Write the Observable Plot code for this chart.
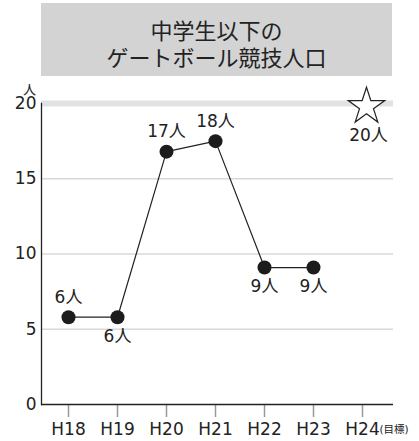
<!DOCTYPE html>
<html><head><meta charset="utf-8">
<script src="https://cdn.jsdelivr.net/npm/d3@7"></script>
<script src="https://cdn.jsdelivr.net/npm/@observablehq/plot@0.6"></script>
<style>
body{margin:0;background:#fff;font-family:"DejaVu Sans","Noto Sans CJK JP",sans-serif;overflow:hidden;}
#title{margin:3px 0 0 41px;width:351px;height:73px;background:#d3d3d4;color:#222;font-size:22px;text-align:center;box-sizing:border-box;padding-top:13px;font-family:"Noto Sans CJK JP",sans-serif;}
#title div{height:27px;line-height:27px;}
#chart{margin-top:4px;height:361px;}
#chart svg{display:block;}
</style></head><body>
<div id="title"><div>中学生以下の</div><div>ゲートボール競技人口</div></div>
<div id="chart"></div>
<script>
const years = ["H18","H19","H20","H21","H22","H23","H24"];
const actualYears = ["H18","H19","H20","H21","H22","H23"];
const values = [5.8, 5.8, 16.8, 17.5, 9.1, 9.1];
const valueLabels = ["6人","6人","17人","18人","9人","9人"];
const labelSide = ["above","below","above","above","below","below"];
const targetYear = "H24";
const targetValue = 20;
const targetLabel = "20人";
const yTicks = [0, 5, 10, 15, 20];
const gridTicks = [5, 10, 15];
const unitLabel = "人";
const targetNote = "(目標)";

const pts = actualYears.map((y, i) => ({year: y, value: values[i], label: valueLabels[i], side: labelSide[i]}));
const font = `"DejaVu Sans","Noto Sans CJK JP",sans-serif`;

const chart = Plot.plot({
  width: 419,
  height: 361,
  marginLeft: 41,
  marginRight: 26,
  marginTop: 23,
  marginBottom: 37,
  style: {fontFamily: font, fontSize: "17px", color: "#222", background: "#fff", overflow: "visible"},
  x: {type: "point", domain: years, padding: 0, insetLeft: 25, insetRight: 30, label: null},
  y: {domain: [0, 20], label: null},
  marks: [
    Plot.ruleY(gridTicks, {stroke: "#d8d8d8", strokeWidth: 1.3}),
    Plot.ruleY([20], {stroke: "#e2e2e2", strokeWidth: 6}),
    Plot.axisY(yTicks, {tickSize: 0, tickPadding: 5, fontSize: 17, label: null}),
    Plot.axisX({tickSize: 13, tickPadding: 5, stroke: "#999", strokeWidth: 1.5, fontSize: 17, label: null}),
    Plot.frame({anchor: "left", stroke: "#222", strokeWidth: 1.3}),
    Plot.ruleY([0], {stroke: "#222", strokeWidth: 1.3}),
    Plot.line(pts, {x: "year", y: "value", stroke: "#222", strokeWidth: 1.2}),
    Plot.dot(pts, {x: "year", y: "value", r: 7, fill: "#1c1c1c", stroke: "none"}),
    Plot.text(pts.filter(d => d.side === "above"), {x: "year", y: "value", text: "label", dy: -20, fontSize: 17, fill: "#222"}),
    Plot.text(pts.filter(d => d.side === "below"), {x: "year", y: "value", text: "label", dy: 19, fontSize: 17, fill: "#222"}),
    Plot.dot([{year: targetYear, value: targetValue}], {x: "year", y: "value", symbol: "star", r: 11.5, dx: 4, dy: 3, fill: "#fff", stroke: "#222", strokeWidth: 1.2}),
    Plot.text([{year: targetYear, value: targetValue, label: targetLabel}], {x: "year", y: "value", text: "label", dx: 6, dy: 32, fontSize: 17, fill: "#222"}),
    Plot.text([{year: targetYear, t: targetNote}], {x: "year", text: "t", frameAnchor: "bottom", textAnchor: "start", dx: 17, dy: 28, fontSize: 10.5, fill: "#222"}),
    Plot.text([unitLabel], {frameAnchor: "top-left", textAnchor: "middle", lineAnchor: "middle", dx: -12, dy: -14, fontSize: 13, fill: "#222", text: d => d})
  ]
});
document.getElementById("chart").appendChild(chart);
</script>
</body></html>
